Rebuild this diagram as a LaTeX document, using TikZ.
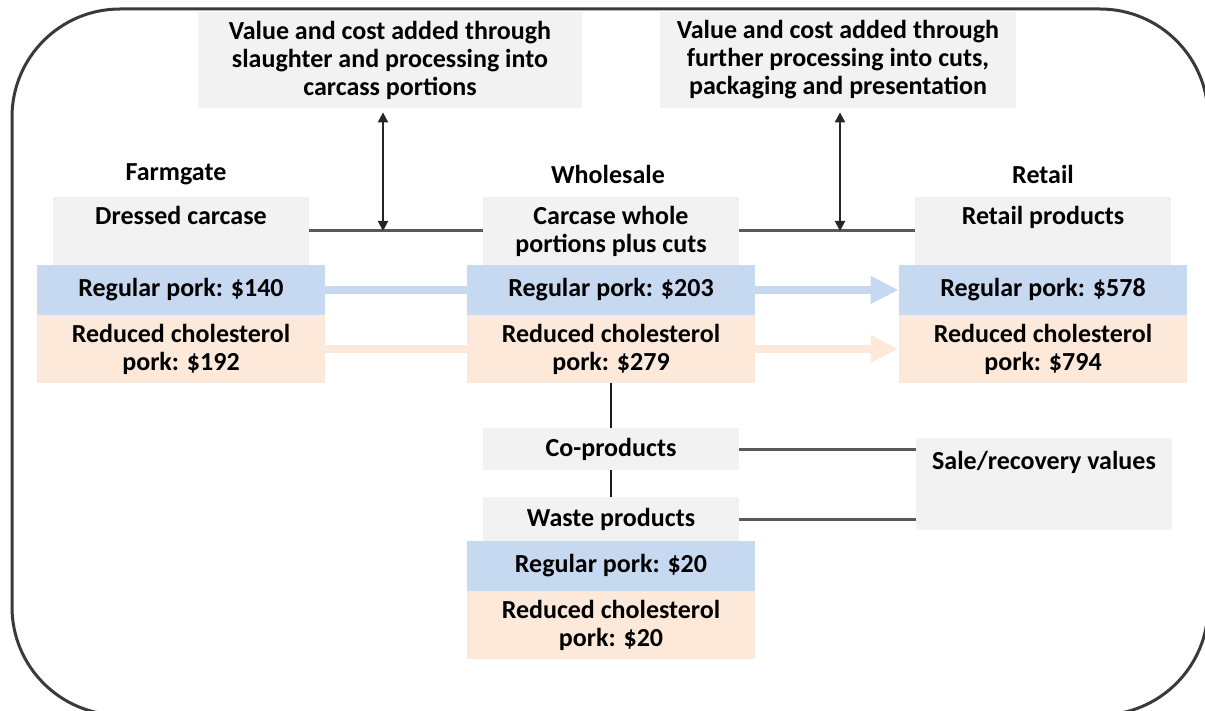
\documentclass[tikz,border=0pt]{standalone}
\usepackage{fontspec}
\setmainfont{Carlito}
\usetikzlibrary{arrows, arrows.meta}
\definecolor{boxgrey}{HTML}{F2F2F2}
\definecolor{regblue}{HTML}{C6D9F1}
\definecolor{redpeach}{HTML}{FDE9D9}
\definecolor{linegrey}{HTML}{595959}
\definecolor{framegrey}{HTML}{3A3A3A}
\tikzstyle{greybox} = [rectangle, minimum width=128pt, minimum height=34pt, inner sep=0pt, align=center, fill=boxgrey, font=\fontsize{13}{14}\selectfont\bfseries]
\tikzstyle{notebox} = [greybox, minimum height=48pt]
\tikzstyle{regular} = [rectangle, minimum width=144pt, minimum height=25pt, inner sep=0pt, align=center, fill=regblue, font=\fontsize{13}{14}\selectfont\bfseries]
\tikzstyle{reduced} = [regular, minimum height=34pt, fill=redpeach]
\tikzstyle{stage} = [font=\fontsize{13}{14}\selectfont\bfseries]
\tikzstyle{link} = [line width=1.5pt, draw=linegrey]
\tikzstyle{tie} = [line width=1pt, draw=black!90]
\tikzstyle{arrow} = [line width=1pt, <->, >={Triangle[length=5pt, width=5pt]}, draw=black!85]
\tikzstyle{bluebar} = [line width=4pt, draw=regblue]
\tikzstyle{peachbar} = [line width=4pt, draw=redpeach]
\tikzstyle{bluearrow} = [bluebar, -{Triangle[length=14pt, width=13pt]}]
\tikzstyle{peacharrow} = [peachbar, -{Triangle[length=14pt, width=13pt]}]

\begin{document}
\begin{tikzpicture}[x=0.5pt, y=-0.5pt, node distance=29.5pt]
\useasboundingbox (0,0) rectangle (1205,711);
\begin{scope}
\clip (0,0) rectangle (1205,711);
\draw [line width=1.5pt, draw=framegrey, rounded corners=54pt] (12,9) rectangle (1208,715);
\end{scope}

% value added notes
\node (top1) [notebox, minimum width=192pt] at (390,60) {Value and cost added through\\slaughter and processing into\\carcass portions};
\node (top2) [notebox, minimum width=178pt] at (838,60) {Value and cost added through\\further processing into cuts,\\packaging and presentation};

% stages
\node (farmlabel) [stage] at (176,174) {Farmgate};
\node (whlabel) [stage] at (608,174) {Wholesale};
\node (retlabel) [stage] at (1043,174) {Retail};

\node (farmbox) [greybox, text height=14pt, text depth=20pt] at (181,231) {Dressed carcase};
\node (farmreg) [regular, below of=farmbox] {Regular pork: \$140};
\node (farmred) [reduced, below of=farmreg] {Reduced cholesterol\\pork: \$192};

\node (whbox) [greybox] at (611,231) {Carcase whole\\portions plus cuts};
\node (whreg) [regular, below of=whbox] {Regular pork: \$203};
\node (whred) [reduced, below of=whreg] {Reduced cholesterol\\pork: \$279};

\node (retbox) [greybox, text height=14pt, text depth=20pt] at (1043,231) {Retail products};
\node (retreg) [regular, below of=retbox] {Regular pork: \$578};
\node (retred) [reduced, below of=retreg] {Reduced cholesterol\\pork: \$794};

% co-products and waste
\node (coprod) [greybox, minimum height=21pt] at (611,449) {Co-products};
\node (waste) [greybox, minimum height=22pt] at (611,519) {Waste products};
\node (wastereg) [regular, below of=waste, yshift=6pt] {Regular pork: \$20};
\node (wastered) [reduced, below of=wastereg] {Reduced cholesterol\\pork: \$20};
\node (sale) [greybox, text height=15.5pt, text depth=30.5pt] at (1044,484) {Sale/recovery values};

\coordinate (j1) at (383,231);
\coordinate (j2) at (840,231);

\draw [link] (farmbox) -- (whbox);
\draw [link] (whbox) -- (retbox);
\draw [arrow, shorten <=2pt] (top1.south -| j1) -- (j1);
\draw [arrow, shorten <=2pt] (top2.south -| j2) -- (j2);

\draw [bluebar] (farmreg) -- (whreg);
\draw [peachbar] (farmred) -- (whred);
\draw [bluearrow] (whreg) -- (retreg);
\draw [peacharrow] (whred) -- (retred);

\draw [tie] (whred) -- (coprod);
\draw [tie] (coprod) -- (waste);
\draw [link] (coprod.east) -- (coprod.east -| sale.west);
\draw [link] (waste.east) -- (waste.east -| sale.west);
\end{tikzpicture}
\end{document}
